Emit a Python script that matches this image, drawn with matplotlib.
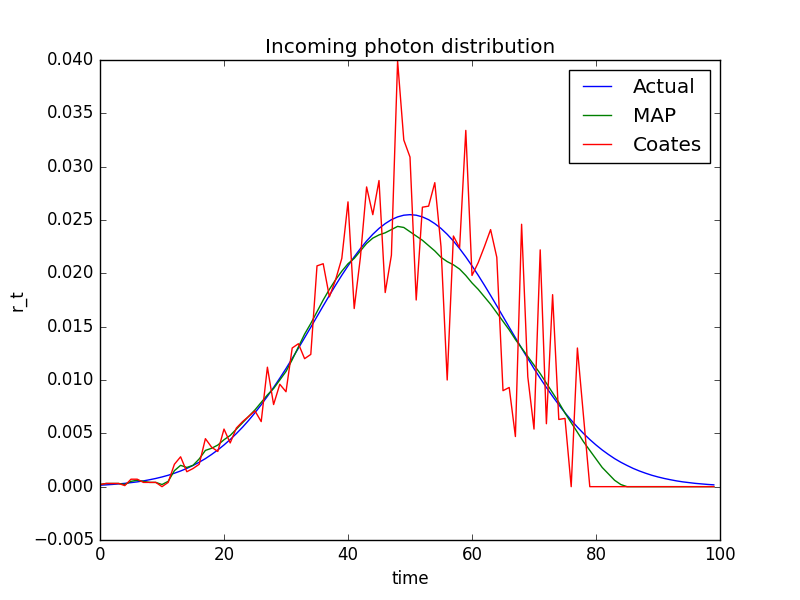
import numpy as np
import matplotlib
matplotlib.use("Agg")
import matplotlib.pyplot as plt

# time steps 0..99
time = np.arange(100)

# values
actual = [
    0.00014, 0.00017, 0.00021, 0.00026, 0.00031, 0.00038, 0.00045, 0.00054, 0.00065, 0.00077,
    0.00091, 0.00107, 0.00126, 0.00147, 0.00171, 0.00199, 0.00229, 0.00263, 0.00302, 0.00344,
    0.00391, 0.00442, 0.00498, 0.00558, 0.00623, 0.00693, 0.00768, 0.00847, 0.00930, 0.01017,
    0.01107, 0.01202, 0.01298, 0.01396, 0.01495, 0.01595, 0.01695, 0.01793, 0.01889, 0.01982,
    0.02070, 0.02154, 0.02232, 0.02303, 0.02366, 0.02421, 0.02466, 0.02503, 0.02529, 0.02545,
    0.02550,
    0.02545, 0.02529, 0.02503, 0.02466, 0.02421, 0.02366, 0.02303, 0.02232, 0.02154, 0.02070,
    0.01982, 0.01889, 0.01793, 0.01695, 0.01595, 0.01495, 0.01396, 0.01298, 0.01202, 0.01107,
    0.01017, 0.00930, 0.00847, 0.00768, 0.00693, 0.00623, 0.00558, 0.00498, 0.00442, 0.00391,
    0.00344, 0.00302, 0.00263, 0.00229, 0.00199, 0.00171, 0.00147, 0.00126, 0.00107, 0.00091,
    0.00077, 0.00065, 0.00054, 0.00045, 0.00038, 0.00031, 0.00026, 0.00021, 0.00017,
]

map_est = [
    0.0002, 0.0003, 0.0003, 0.0003, 0.0002, 0.0005, 0.0006, 0.0005, 0.0004, 0.0004,
    0.0002, 0.0005, 0.0015, 0.0020, 0.0018, 0.0020, 0.0026, 0.0034, 0.0036, 0.0039,
    0.0044, 0.0048, 0.0054, 0.0060, 0.0066, 0.0072, 0.0079, 0.0086, 0.0092, 0.0100,
    0.0108, 0.0119, 0.0131, 0.0143, 0.0153, 0.0164, 0.0175, 0.0185, 0.0194, 0.0202,
    0.0209, 0.0214, 0.0221, 0.0228, 0.0233, 0.0236, 0.0238, 0.0241, 0.0244, 0.0243,
    0.0239, 0.0235, 0.0231, 0.0226, 0.0221, 0.0215, 0.0211, 0.0208, 0.0204, 0.0198,
    0.0191, 0.0185, 0.0178, 0.0171, 0.0163, 0.0155, 0.0147, 0.0138, 0.0130, 0.0122,
    0.0114, 0.0106, 0.0097, 0.0088, 0.0079, 0.0069, 0.0060, 0.0051, 0.0042, 0.0034,
    0.0026, 0.0018, 0.0012, 0.0006, 0.0002, 0.0000, 0.0000, 0.0000, 0.0000, 0.0000,
    0.0000, 0.0000, 0.0000, 0.0000, 0.0000, 0.0000, 0.0000, 0.0000, 0.0000, 0.0000,
]

coates = [
    0.0002, 0.0003, 0.0003, 0.0003, 0.0001, 0.0007, 0.0007, 0.0004, 0.0004, 0.0004,
    0.0000, 0.0004, 0.0021, 0.0028, 0.0014, 0.0017, 0.0021, 0.0045, 0.0037, 0.0033,
    0.0054, 0.0041, 0.0055, 0.0061, 0.0066, 0.0071, 0.0061, 0.0112, 0.0077, 0.0096,
    0.0089, 0.0130, 0.0134, 0.0120, 0.0124, 0.0207, 0.0209, 0.0178, 0.0194, 0.0214,
    0.0267, 0.0167, 0.0215, 0.0281, 0.0255, 0.0287, 0.0182, 0.0217, 0.0399, 0.0325,
    0.0309, 0.0175, 0.0262, 0.0263, 0.0285, 0.0225, 0.0100, 0.0235, 0.0224, 0.0334,
    0.0198, 0.0210, 0.0225, 0.0241, 0.0215, 0.0090, 0.0093, 0.0047, 0.0246, 0.0103,
    0.0054, 0.0222, 0.0059, 0.0180, 0.0063, 0.0064, 0.0000, 0.0130, 0.0065, 0.0000,
    0.0000, 0.0000, 0.0000, 0.0000, 0.0000, 0.0000, 0.0000, 0.0000, 0.0000, 0.0000,
    0.0000, 0.0000, 0.0000, 0.0000, 0.0000, 0.0000, 0.0000, 0.0000, 0.0000, 0.0000,
]

plt.style.use("classic")
fig = plt.figure(figsize=(8, 6), dpi=100)
ax = fig.add_subplot(111)

ax.plot(time, actual, "b-", label="Actual")
ax.plot(time, map_est, "g-", label="MAP")
ax.plot(time, coates, "r-", label="Coates")

ax.set_xlim(0, 100)
ax.set_ylim(-0.005, 0.040)
ax.set_title("Incoming photon distribution")
ax.set_xlabel("time")
ax.set_ylabel("r_t")
ax.legend(loc="upper right")

fig.savefig("out.png", dpi=100)
